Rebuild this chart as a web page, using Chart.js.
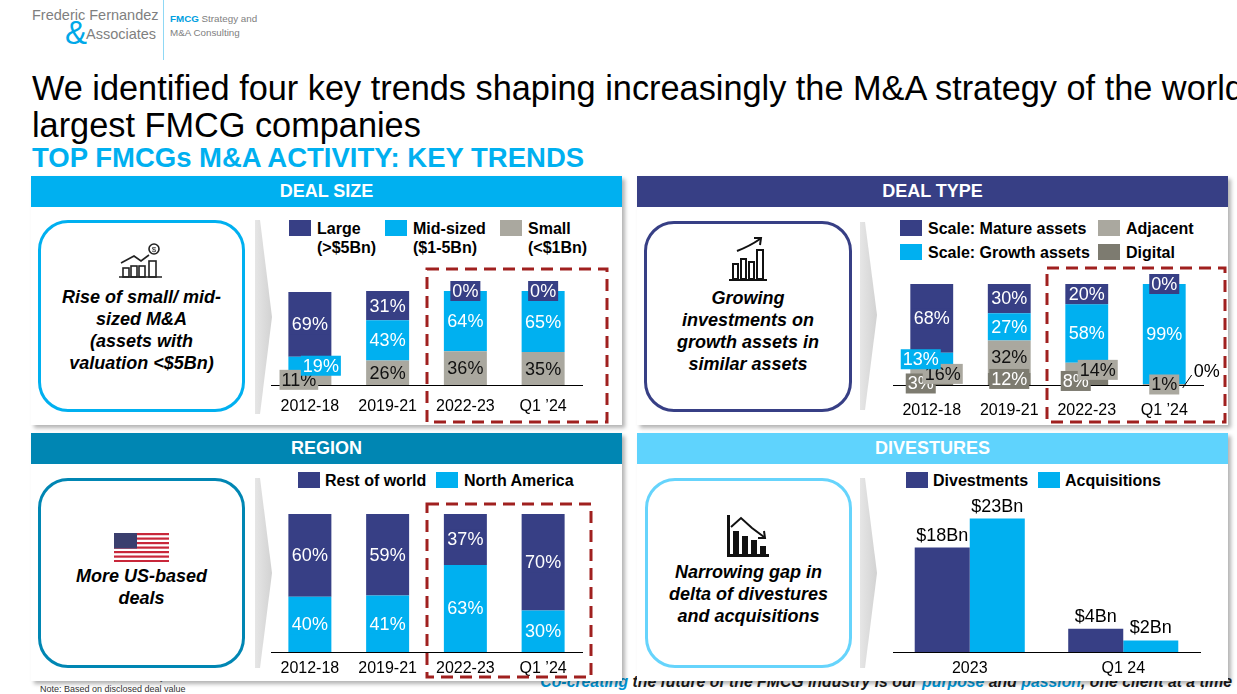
<!DOCTYPE html>
<html>
<head>
<meta charset="utf-8">
<script src="https://cdn.jsdelivr.net/npm/chart.js@4.4.1/dist/chart.umd.min.js"></script>
<style>
body { margin: 0; width: 1237px; height: 694px; position: relative; overflow: hidden; background: #fff;
  font-family: "Liberation Sans", Arial, sans-serif; }
.abs { position: absolute; }
.panel { position: absolute; background: #fff; box-shadow: 3px 3px 4px rgba(0,0,0,0.3); z-index: 2; }
.head { height: 31px; line-height: 31px; color: #fff; font-weight: bold; font-size: 18px; text-align: center; }
.box { position: absolute; box-sizing: border-box; border: 3px solid; border-radius: 30px; z-index: 3; }
.msg { position: absolute; z-index: 4; font-weight: bold; font-style: italic; font-size: 18px; line-height: 22px;
  text-align: center; color: #000; }
.chart { position: absolute; z-index: 5; }
.leg { position: absolute; z-index: 5; font-weight: bold; font-size: 16px; color: #000; line-height: 19px; white-space: nowrap; }
.sq { position: absolute; z-index: 5; width: 22px; height: 16px; }
svg.abs { z-index: 6; }
</style>
</head>
<body>

<!-- logo -->
<div class="abs" style="left:32px;top:7px;font-size:14.5px;color:#7f7f7f;">Frederic Fernandez</div>
<div class="abs" style="left:65px;top:14px;font-size:33px;color:#00a8e8;font-weight:300;">&amp;</div>
<div class="abs" style="left:86px;top:26px;font-size:14.5px;color:#7f7f7f;">Associates</div>
<div class="abs" style="left:163px;top:0;width:1px;height:60px;background:#8fd8f5;"></div>
<div class="abs" style="left:170px;top:12px;font-size:9.8px;line-height:14px;color:#808080;"><b style="color:#00a0e0;">FMCG</b> Strategy and<br>M&amp;A Consulting</div>

<!-- titles -->
<div class="abs" style="left:32px;top:70px;font-size:34.3px;line-height:37px;color:#000;white-space:nowrap;">We identified four key trends shaping increasingly the M&amp;A strategy of the world's<br>largest FMCG companies</div>
<div class="abs" style="left:32px;top:143px;font-size:27.5px;line-height:30px;font-weight:bold;color:#00b0f0;white-space:nowrap;">TOP FMCGs M&amp;A ACTIVITY: KEY TRENDS</div>

<!-- footer -->
<div class="abs" style="left:40px;top:672px;font-size:9px;color:#333;">Source: Pitchbook, FF&amp;A analysis</div>
<div class="abs" style="left:40px;top:684px;font-size:9px;color:#333;">Note: Based on disclosed deal value</div>
<div class="abs" style="right:5px;top:673px;font-size:15.8px;font-weight:bold;font-style:italic;color:#1a1a1a;white-space:nowrap;"><span style="color:#0096d6;">Co-creating</span> the future of the FMCG industry is our <span style="color:#0096d6;">purpose</span> and <span style="color:#0096d6;">passion</span>, one client at a time</div>

<!-- panels -->
<div class="panel" style="left:31px;top:176px;width:591px;height:249px;"><div class="head" style="background:#00b0f0;">DEAL SIZE</div></div>
<div class="panel" style="left:637px;top:176px;width:591px;height:249px;"><div class="head" style="background:#373f85;">DEAL TYPE</div></div>
<div class="panel" style="left:31px;top:433px;width:591px;height:248px;"><div class="head" style="background:#0086b3;">REGION</div></div>
<div class="panel" style="left:637px;top:433px;width:591px;height:248px;"><div class="head" style="background:#5fd3fd;">DIVESTURES</div></div>

<!-- message boxes -->
<div class="box" style="left:38px;top:220px;width:207px;height:192px;border-color:#00b0f0;"></div>
<div class="box" style="left:644px;top:221px;width:208px;height:191px;border-color:#373f85;"></div>
<div class="box" style="left:38px;top:478px;width:207px;height:190px;border-color:#0086b3;"></div>
<div class="box" style="left:645px;top:478px;width:207px;height:190px;border-color:#66d4fc;"></div>

<div class="msg" style="left:38px;top:286px;width:207px;">Rise of small/ mid-<br>sized M&amp;A<br>(assets with<br>valuation &lt;$5Bn)</div>
<div class="msg" style="left:644px;top:287px;width:208px;">Growing<br>investments on<br>growth assets in<br>similar assets</div>
<div class="msg" style="left:38px;top:565px;width:207px;">More US-based<br>deals</div>
<div class="msg" style="left:645px;top:561px;width:207px;">Narrowing gap in<br>delta of divestures<br>and acquisitions</div>

<!-- chevrons -->
<svg class="abs" style="left:0;top:0;z-index:4;" width="1237" height="694">
  <defs>
    <linearGradient id="chev" x1="0" x2="1" y1="0" y2="0">
      <stop offset="0" stop-color="#e6e6e6"/><stop offset="1" stop-color="#d2d2d2"/>
    </linearGradient>
  </defs>
  <polygon points="255,220 260,220 272,317 260,414 255,414" fill="url(#chev)"/>
  <polygon points="860,222 865,222 877,315 865,410 860,410" fill="url(#chev)"/>
  <polygon points="255,478 260,478 272,573 260,668 255,668" fill="url(#chev)"/>
  <polygon points="860,478 865,478 877,573 865,668 860,668" fill="url(#chev)"/>
</svg>
<!-- dashed frames and icons -->
<svg class="abs" style="left:0;top:0;" width="1237" height="694">
  <g fill="none" stroke="#a0201f" stroke-width="3" stroke-dasharray="12 7">
    <rect x="427" y="269" width="180" height="153"/>
    <rect x="1047" y="268" width="178" height="154"/>
    <rect x="427" y="504" width="164" height="173"/>
  </g>
  <g stroke="#222" stroke-width="1.6" fill="none">
    <line x1="119" y1="277" x2="162" y2="277"/>
    <rect x="123" y="268" width="6" height="9"/>
    <rect x="131" y="266" width="6" height="11"/>
    <rect x="139" y="266" width="6" height="11"/>
    <rect x="149" y="261" width="7" height="16"/>
    <polyline points="121,263 134,256 141,261 149,255"/>
    <circle cx="154" cy="249" r="5"/>
  </g>
  <text x="154" y="252" font-size="8" text-anchor="middle" font-family="Liberation Sans" fill="#222">$</text>
  <g stroke="#111" stroke-width="2" fill="none">
    <line x1="729" y1="280" x2="767" y2="280"/>
    <rect x="733" y="264" width="5" height="15"/>
    <rect x="741" y="259" width="5" height="20"/>
    <rect x="749" y="262" width="5" height="17"/>
    <rect x="757" y="250" width="6" height="29"/>
    <path d="M737,251 Q750,246 760,239"/>
    <polyline points="754,238 761,238 760,245"/>
  </g>
  <g>
    <rect x="114" y="533" width="55" height="29" fill="#fff"/>
    <rect x="114" y="533" width="55" height="2.2" fill="#c8273a"/>
    <rect x="114" y="537.5" width="55" height="2.2" fill="#c8273a"/>
    <rect x="114" y="542" width="55" height="2.2" fill="#c8273a"/>
    <rect x="114" y="546.5" width="55" height="2.2" fill="#c8273a"/>
    <rect x="114" y="551" width="55" height="2.2" fill="#c8273a"/>
    <rect x="114" y="555.5" width="55" height="2.2" fill="#c8273a"/>
    <rect x="114" y="560" width="55" height="2" fill="#c8273a"/>
    <rect x="114" y="533" width="23" height="15.5" fill="#3b3f6e"/>
  </g>
  <g fill="#111">
    <rect x="727" y="515" width="3" height="42"/>
    <rect x="727" y="554" width="42" height="3"/>
    <rect x="733" y="531" width="6" height="23"/>
    <rect x="742" y="536" width="6" height="18"/>
    <rect x="751" y="540" width="6" height="14"/>
    <rect x="760" y="546" width="6" height="8"/>
  </g>
  <g stroke="#111" stroke-width="2" fill="none">
    <polyline points="731,527 741,518 752,528 764,537"/>
    <polyline points="758,538 765,538 764,531"/>
  </g>
</svg>

<!-- legends -->
<div class="sq" style="left:289px;top:220px;background:#373f85;"></div>
<div class="leg" style="left:317px;top:219px;">Large<br>(&gt;$5Bn)</div>
<div class="sq" style="left:385px;top:220px;background:#00b0f0;"></div>
<div class="leg" style="left:413px;top:219px;">Mid-sized<br>($1-5Bn)</div>
<div class="sq" style="left:500px;top:220px;background:#aaa89f;"></div>
<div class="leg" style="left:528px;top:219px;">Small<br>(&lt;$1Bn)</div>

<div class="sq" style="left:900px;top:220px;background:#373f85;"></div>
<div class="leg" style="left:928px;top:219px;">Scale: Mature assets</div>
<div class="sq" style="left:900px;top:244px;background:#00b0f0;"></div>
<div class="leg" style="left:928px;top:243px;">Scale: Growth assets</div>
<div class="sq" style="left:1098px;top:220px;background:#aaa89f;"></div>
<div class="leg" style="left:1126px;top:219px;">Adjacent</div>
<div class="sq" style="left:1098px;top:244px;background:#7d7b70;"></div>
<div class="leg" style="left:1126px;top:243px;">Digital</div>

<div class="sq" style="left:298px;top:472px;background:#373f85;"></div>
<div class="leg" style="left:325px;top:471px;">Rest of world</div>
<div class="sq" style="left:436px;top:472px;background:#00b0f0;"></div>
<div class="leg" style="left:464px;top:471px;">North America</div>

<div class="sq" style="left:906px;top:472px;background:#373f85;"></div>
<div class="leg" style="left:933px;top:471px;">Divestments</div>
<div class="sq" style="left:1038px;top:472px;background:#00b0f0;"></div>
<div class="leg" style="left:1065px;top:471px;">Acquisitions</div>

<!-- charts: bottom edge of each box sits 40px under its axis line -->
<div class="chart" style="left:251px;top:276px;width:371px;height:149px;"><canvas id="sizeChart"></canvas></div>
<div class="chart" style="left:873px;top:269px;width:370px;height:156px;"><canvas id="typeChart"></canvas></div>
<div class="chart" style="left:251px;top:510px;width:371px;height:182px;"><canvas id="regionChart"></canvas></div>
<div class="chart" style="left:873px;top:492px;width:367px;height:200px;"><canvas id="divChart"></canvas></div>

<script>
var periods = ['2012-18', '2019-21', '2022-23', 'Q1 \u201924'];

// deal size, % of disclosed value
var sizeSmall = [11, 26, 36, 35];
var sizeMid = [19, 43, 64, 65];
var sizeLarge = [69, 31, 0, 0];

// deal type, %
var typeDigital = [3, 12, 8, 0];
var typeAdjacent = [16, 32, 14, 1];
var typeGrowth = [13, 27, 58, 99];
var typeMature = [68, 30, 20, 0];

// region, %
var regionNA = [40, 41, 63, 30];
var regionRest = [60, 59, 37, 70];

// divestures, $Bn
var divPeriods = ['2023', 'Q1 24'];
var divestments = [18, 4];
var acquisitions = [23, 2];

var NAVY = '#373f85', BLUE = '#00b0f0', GREY = '#aaa89f', DARKGREY = '#7d7b70';
var AXIS_H = 40;

Chart.defaults.font.family = '"Liberation Sans", Arial, sans-serif';
Chart.defaults.color = '#000';

// value labels: boxed % labels in stacked bars, $ labels above grouped bars
var valueLabels = {
  id: 'valueLabels',
  afterDatasetsDraw: function (chart, args, opts) {
    var ctx = chart.ctx;
    ctx.save();
    ctx.font = '18px "Liberation Sans", Arial, sans-serif';
    ctx.textAlign = 'center';
    ctx.textBaseline = 'middle';
    var sets = chart.data.datasets;
    chart.data.labels.forEach(function (lab, i) {
      if (opts.mode === 'top') {
        sets.forEach(function (ds, d) {
          var bar = chart.getDatasetMeta(d).data[i];
          ctx.fillStyle = '#000';
          ctx.fillText('$' + ds.data[i] + 'Bn', bar.x, bar.y - 12);
        });
        return;
      }
      var items = [];
      sets.forEach(function (ds, d) {
        var bar = chart.getDatasetMeta(d).data[i];
        var v = ds.data[i];
        var above = sets.slice(d + 1).some(function (o) { return o.data[i] > 0; });
        var txt = v + '%';
        items.push({
          x: bar.x, y: (bar.y + bar.base) / 2, txt: txt,
          w: ctx.measureText(txt).width + 4, h: 20, dx: 0,
          bg: ds.backgroundColor, fg: ds.labelColor,
          leader: v === 0 && above, right: bar.x + bar.width / 2
        });
      });
      // nudge overlapping neighbours sideways, alternating
      var boxes = items.filter(function (it) { return !it.leader; });
      for (var k = 1; k < boxes.length; k++) {
        if (Math.abs(boxes[k].y - boxes[k - 1].y) < boxes[k].h) {
          if (boxes[k - 1].dx === 0) boxes[k - 1].dx = -11;
          boxes[k].dx = boxes[k - 1].dx > 0 ? -11 : 11;
        }
      }
      items.forEach(function (it) {
        if (it.leader) {
          ctx.strokeStyle = '#000';
          ctx.lineWidth = 1;
          ctx.beginPath();
          ctx.moveTo(it.right - 3, it.y + 3);
          ctx.lineTo(it.right + 6, it.y - 10);
          ctx.stroke();
          ctx.fillStyle = '#000';
          ctx.textAlign = 'left';
          ctx.fillText(it.txt, it.right + 8, it.y - 13);
          ctx.textAlign = 'center';
          return;
        }
        ctx.fillStyle = it.bg;
        ctx.fillRect(it.x + it.dx - it.w / 2, it.y - it.h / 2, it.w, it.h);
        ctx.fillStyle = it.fg;
        ctx.fillText(it.txt, it.x + it.dx, it.y + 1);
      });
    });
    ctx.restore();
  }
};

function xAxis(tickPad, stacked) {
  return {
    stacked: stacked,
    grid: { display: false, drawTicks: false },
    border: { display: true, color: '#000', width: 1 },
    ticks: { font: { size: 16 }, color: '#000', padding: tickPad },
    afterFit: function (scale) { scale.height = AXIS_H; }
  };
}

function stackedOptions(padTop, tickPad) {
  return {
    responsive: true,
    maintainAspectRatio: false,
    animation: false,
    layout: { padding: { top: padTop, left: 20, right: 40, bottom: 0 } },
    plugins: { legend: { display: false }, tooltip: { enabled: false }, valueLabels: { mode: 'box' } },
    scales: {
      x: xAxis(tickPad, true),
      y: { stacked: true, display: false, min: 0, max: 100 }
    }
  };
}

function bars(label, data, bg, fg) {
  return { label: label, data: data, backgroundColor: bg, labelColor: fg,
    barPercentage: 0.553, categoryPercentage: 1 };
}

new Chart(document.getElementById('sizeChart'), {
  type: 'bar',
  data: {
    labels: periods,
    datasets: [
      bars('Small (<$1Bn)', sizeSmall, GREY, '#111'),
      bars('Mid-sized ($1-5Bn)', sizeMid, BLUE, '#fff'),
      bars('Large (>$5Bn)', sizeLarge, NAVY, '#fff')
    ]
  },
  options: stackedOptions(15, 12),
  plugins: [valueLabels]
});

new Chart(document.getElementById('typeChart'), {
  type: 'bar',
  data: {
    labels: periods,
    datasets: [
      bars('Digital', typeDigital, DARKGREY, '#fff'),
      bars('Adjacent', typeAdjacent, GREY, '#111'),
      bars('Scale: Growth assets', typeGrowth, BLUE, '#fff'),
      bars('Scale: Mature assets', typeMature, NAVY, '#fff')
    ]
  },
  options: stackedOptions(15, 16),
  plugins: [valueLabels]
});

new Chart(document.getElementById('regionChart'), {
  type: 'bar',
  data: {
    labels: periods,
    datasets: [
      bars('North America', regionNA, BLUE, '#fff'),
      bars('Rest of world', regionRest, NAVY, '#fff')
    ]
  },
  options: stackedOptions(4, 7),
  plugins: [valueLabels]
});

new Chart(document.getElementById('divChart'), {
  type: 'bar',
  data: {
    labels: divPeriods,
    datasets: [
      { label: 'Divestments', data: divestments, backgroundColor: NAVY, barPercentage: 1, categoryPercentage: 0.717 },
      { label: 'Acquisitions', data: acquisitions, backgroundColor: BLUE, barPercentage: 1, categoryPercentage: 0.717 }
    ]
  },
  options: {
    responsive: true,
    maintainAspectRatio: false,
    animation: false,
    layout: { padding: { top: 15, left: 20, right: 40, bottom: 0 } },
    plugins: { legend: { display: false }, tooltip: { enabled: false }, valueLabels: { mode: 'top' } },
    scales: {
      x: xAxis(7, false),
      y: { display: false, min: 0, max: 25 }
    }
  },
  plugins: [valueLabels]
});
</script>
</body>
</html>
